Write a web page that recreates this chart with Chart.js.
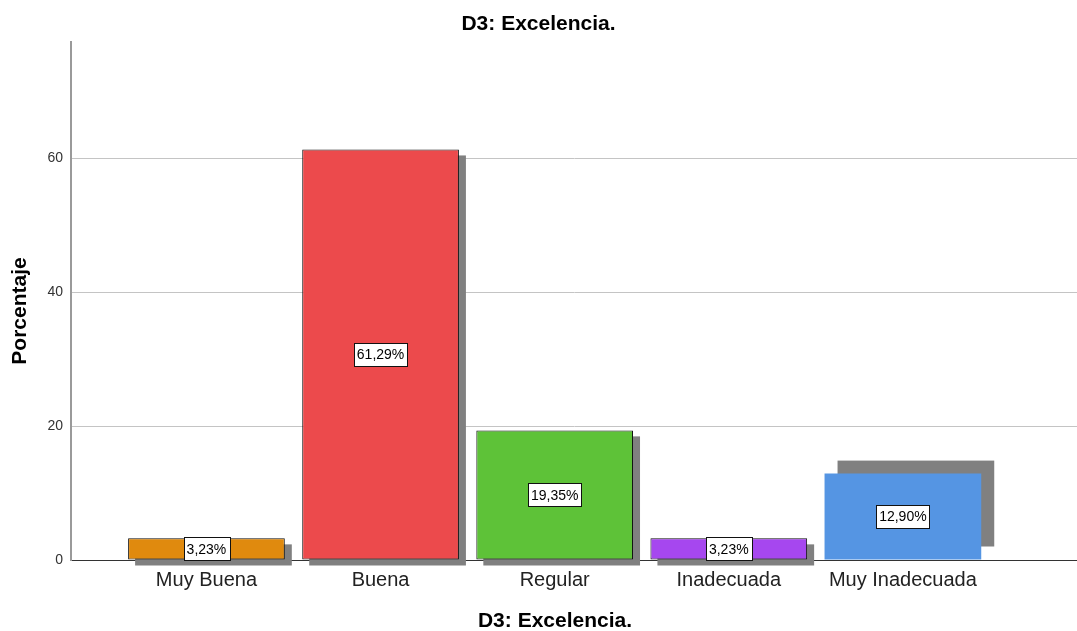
<!DOCTYPE html>
<html>
<head>
<meta charset="utf-8">
<script src="https://cdn.jsdelivr.net/npm/chart.js@4/dist/chart.umd.min.js"></script>
<style>
  html, body { margin: 0; padding: 0; background: #ffffff; }
  #wrap { width: 1077px; height: 631px; position: relative; }
</style>
</head>
<body>
<div id="wrap"><canvas id="c"></canvas></div>
<script>
const chartTitle = "D3: Excelencia.";
const xAxisTitle = "D3: Excelencia.";
const yAxisTitle = "Porcentaje";
const categories = ["Muy Buena", "Buena", "Regular", "Inadecuada", "Muy Inadecuada"];
const percentages = [3.23, 61.29, 19.35, 3.23, 12.90];
const yTicks = [0, 20, 40, 60];
const barColors = ["#E08A0E", "#EC4A4C", "#5EC238", "#A647EF", "#5595E3"];

const FONT = "'Liberation Sans', Arial, sans-serif";

const shadowPlugin = {
  id: 'barShadow',
  beforeDatasetsDraw(chart, args, opts) {
    const ctx = chart.ctx;
    const meta = chart.getDatasetMeta(0);
    ctx.save();
    ctx.fillStyle = opts.color;
    meta.data.forEach((bar, i) => {
      const off = opts.offsets[i] || opts.offsets[0];
      const w = bar.width;
      const top = Math.min(bar.y, bar.base);
      const h = Math.abs(bar.base - bar.y);
      ctx.fillRect(bar.x - w / 2 + off[0], top + off[1], w, h);
    });
    ctx.restore();
  }
};

const valueLabelPlugin = {
  id: 'valueLabels',
  afterDatasetsDraw(chart, args, opts) {
    const ctx = chart.ctx;
    const meta = chart.getDatasetMeta(0);
    const data = chart.data.datasets[0].data;
    ctx.save();
    ctx.font = opts.font;
    ctx.textAlign = 'center';
    ctx.textBaseline = 'middle';
    meta.data.forEach((bar, i) => {
      const v = data[i].y;
      const txt = v.toFixed(2).replace('.', ',') + '%';
      const tw = ctx.measureText(txt).width;
      const bw = tw + 6, bh = 23;
      const cx = bar.x, cy = (bar.y + bar.base) / 2;
      ctx.fillStyle = '#ffffff';
      ctx.fillRect(Math.round(cx - bw / 2) + 0.5, Math.round(cy - bh / 2) + 0.5, Math.round(bw), bh);
      ctx.strokeStyle = '#111111';
      ctx.lineWidth = 1;
      ctx.strokeRect(Math.round(cx - bw / 2) + 0.5, Math.round(cy - bh / 2) + 0.5, Math.round(bw), bh);
      ctx.fillStyle = '#000000';
      ctx.fillText(txt, cx, cy + 1);
    });
    ctx.restore();
  }
};

const axisTitlePlugin = {
  id: 'axisTitles',
  afterDraw(chart, args, opts) {
    const ctx = chart.ctx;
    ctx.save();
    ctx.font = opts.font;
    ctx.fillStyle = '#000000';
    ctx.textAlign = 'center';
    ctx.textBaseline = 'middle';
    ctx.fillText(opts.xText, opts.xPos[0], opts.xPos[1]);
    ctx.translate(opts.yPos[0], opts.yPos[1]);
    ctx.rotate(-Math.PI / 2);
    ctx.fillText(opts.yText, 0, 0);
    ctx.restore();
  }
};

new Chart(document.getElementById('c'), {
  type: 'bar',
  data: {
    datasets: [{
      data: categories.map((c, i) => ({ x: i, y: percentages[i] })),
      backgroundColor: barColors,
      borderColor: '#111111',
      borderWidth: [1, 1, 1, 1, 0],
      borderSkipped: false,
      barPercentage: 0.9,
      categoryPercentage: 1.0
    }]
  },
  plugins: [shadowPlugin, valueLabelPlugin, axisTitlePlugin],
  options: {
    responsive: true,
    maintainAspectRatio: false,
    animation: false,
    devicePixelRatio: 1,
    layout: { padding: 0 },
    plugins: {
      legend: { display: false },
      tooltip: { enabled: false },
      title: {
        display: true,
        text: chartTitle,
        color: '#000000',
        font: { family: FONT, size: 21, weight: 'bold', lineHeight: 1.2 },
        padding: { top: 12, bottom: 5 }
      },
      barShadow: { color: '#808080', offsets: [[7, 6], [7, 6], [7, 6], [7, 6], [13, -13]] },
      valueLabels: { font: "14px " + FONT },
      axisTitles: {
        font: "bold 21px " + FONT,
        xText: xAxisTitle, xPos: [555, 621],
        yText: yAxisTitle, yPos: [20, 311]
      }
    },
    scales: {
      x: {
        type: 'linear',
        min: -0.778,
        max: 5.0,
        offset: false,
        afterBuildTicks: s => { s.ticks = categories.map((c, i) => ({ value: i })); },
        afterFit: s => { s.height = 71; },
        ticks: {
          autoSkip: false,
          maxRotation: 0,
          padding: 8,
          color: '#222222',
          font: { family: FONT, size: 20 },
          callback: v => categories[v] !== undefined ? categories[v] : ''
        },
        grid: { display: false, drawTicks: false },
        border: { display: false },
        title: { display: false }
      },
      y: {
        min: 0,
        max: 77.3,
        afterBuildTicks: s => { s.ticks = yTicks.map(v => ({ value: v })); },
        afterFit: s => { s.width = 71; },
        ticks: {
          padding: 8,
          color: '#333333',
          font: { family: FONT, size: 14 }
        },
        grid: {
          drawTicks: false,
          color: ctx => ctx.tick && ctx.tick.value === 0 ? '#333333' : '#c4c4c4',
          lineWidth: 1
        },
        border: { display: true, color: '#9a9a9a', width: 2 },
        title: { display: false }
      }
    }
  }
});
</script>
</body>
</html>
